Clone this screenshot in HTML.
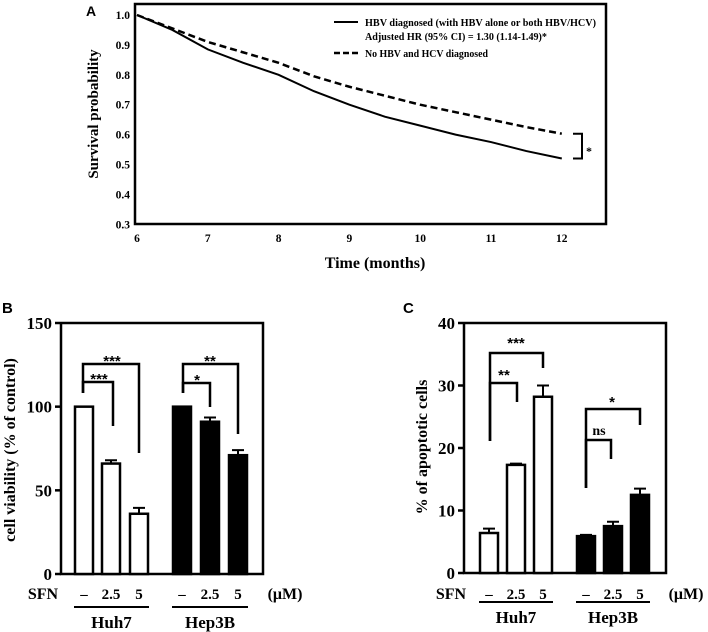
<!DOCTYPE html>
<html><head><meta charset="utf-8"><style>
body{margin:0;background:#fff;}
svg{display:block;font-family:"Liberation Serif",serif;font-weight:bold;}
.sans{font-family:"Liberation Sans",sans-serif;}
</style></head><body>
<svg id="fig" width="708" height="632" viewBox="0 0 708 632" xmlns="http://www.w3.org/2000/svg">
<g id="A"></g>
<g id="B"></g>
<g id="C"></g>
</svg>
<script>
// ---- Panel A data ----
const aMonths = [6,6.5,7,7.5,8,8.5,9,9.5,10,10.5,11,11.5,12];
const aHBV = [1.0,0.95,0.885,0.84,0.80,0.745,0.70,0.66,0.63,0.60,0.575,0.545,0.52];
const aNoHBV = [1.0,0.955,0.91,0.875,0.84,0.795,0.76,0.73,0.70,0.675,0.65,0.625,0.603];
const aXTicks = [6,7,8,9,10,11,12];
const aYTicks = [0.3,0.4,0.5,0.6,0.7,0.8,0.9,1.0];
// ---- Panel B data ----
const bHuh7 = [100,66,36];
const bHuh7Err = [0,2,3.5];
const bHep3B = [100,91,71];
const bHep3BErr = [0,2.5,3];
const bTicks = [0,50,100,150];
// ---- Panel C data ----
const cHuh7 = [6.4,17.3,28.2];
const cHuh7Err = [0.7,0.2,1.8];
const cHep3B = [5.9,7.5,12.5];
const cHep3BErr = [0.2,0.7,1];
const cTicks = [0,10,20,30,40];
const doseLabels = ['–','2.5','5'];

const NS='http://www.w3.org/2000/svg';
function mk(parent,tag,attrs,text){const e=document.createElementNS(NS,tag);for(const k in attrs)e.setAttribute(k,attrs[k]);if(text!==undefined)e.textContent=text;parent.appendChild(e);return e;}

// ===== Panel A =====
(function(){
const g=document.getElementById('A');
const L=135,R=606,T=4,B=224;
const xA=m=>137+(m-6)*70.8;
const yA=v=>15+(1.0-v)*299;
const lbl=mk(g,'text',{x:86,y:16,'font-size':14,class:'sans'},'A');


const box=mk(g,'rect',{x:L,y:T,width:R-L,height:B-T,fill:'none',stroke:'#000','stroke-width':2.5});


aYTicks.forEach(v=>{
 const t=mk(g,'text',{x:130,y:yA(v)+4,'font-size':11.5,'text-anchor':'end'},v.toFixed(1));
 
 
});
aXTicks.forEach(m=>{
 const t=mk(g,'text',{x:xA(m),y:242,'font-size':11.5,'text-anchor':'middle'},String(m));
 
 
});
const yt=mk(g,'text',{x:0,y:0,'font-size':15,'text-anchor':'middle',transform:'translate(98,114) rotate(-90)'},'Survival probability');


const xt=mk(g,'text',{x:375,y:268,'font-size':16,'text-anchor':'middle'},'Time (months)');


const p1=mk(g,'polyline',{points:aMonths.map((m,i)=>xA(m)+','+yA(aHBV[i])).join(' '),fill:'none',stroke:'#000','stroke-width':2});


const p2=mk(g,'polyline',{points:aMonths.map((m,i)=>xA(m)+','+yA(aNoHBV[i])).join(' '),fill:'none',stroke:'#000','stroke-width':2.5,'stroke-dasharray':'7,4'});


const br=mk(g,'polyline',{points:`573,${yA(aNoHBV[12])} 582,${yA(aNoHBV[12])} 582,${yA(aHBV[12])} 573,${yA(aHBV[12])}`,fill:'none',stroke:'#000','stroke-width':2});


const st=mk(g,'text',{x:586,y:155,'font-size':12},'*');


const l1=mk(g,'line',{x1:334,y1:22,x2:358,y2:22,stroke:'#000','stroke-width':2});


const t1=mk(g,'text',{x:365,y:26,'font-size':11,textLength:231,lengthAdjust:'spacingAndGlyphs'},'HBV diagnosed (with HBV alone or both HBV/HCV)');


const t2=mk(g,'text',{x:365,y:40,'font-size':11,textLength:182,lengthAdjust:'spacingAndGlyphs'},'Adjusted HR (95% CI) = 1.30 (1.14-1.49)*');


const l2=mk(g,'line',{x1:334,y1:53,x2:358,y2:53,stroke:'#000','stroke-width':2.5,'stroke-dasharray':'6,3'});


const t3=mk(g,'text',{x:365,y:57,'font-size':11,textLength:123,lengthAdjust:'spacingAndGlyphs'},'No HBV and HCV diagnosed');


})();

// ===== Bar panels =====
function barPanel(cfg){
 const g=document.getElementById(cfg.id);
 const y=v=>cfg.y0-(v/cfg.max)*(cfg.y0-cfg.yTop);
 const lab=mk(g,'text',{x:cfg.lx,y:cfg.ly,'font-size':15,class:'sans'},cfg.label);
 
 
 const ax=mk(g,'polyline',{points:`${cfg.xl},${cfg.yTop} ${cfg.xr},${cfg.yTop} ${cfg.xr},${cfg.y0} ${cfg.xl},${cfg.y0} ${cfg.xl},${cfg.yTop}`,fill:'none',stroke:'#000','stroke-width':2.5});
 
 
 cfg.ticks.forEach(v=>{
  const tk=mk(g,'line',{x1:cfg.xl-6,y1:y(v),x2:cfg.xl,y2:y(v),stroke:'#000','stroke-width':2.5});
  
  
  const tl=mk(g,'text',{x:cfg.xl-9,y:y(v)+6,'font-size':17,'text-anchor':'end'},String(v));
  
  
 });
 const yt=mk(g,'text',{x:0,y:0,'font-size':16,'text-anchor':'middle',transform:`translate(${cfg.ytx},${cfg.yty}) rotate(-90)`},cfg.ytitle);
 
 
 [[cfg.v1,cfg.e1,cfg.x1,'#fff','huh7'],[cfg.v2,cfg.e2,cfg.x2,'#000','hep3b']].forEach(([vals,errs,xs,fill,nm])=>{
  vals.forEach((v,i)=>{
   const cx=xs[i];
   if(errs[i]>0){
    const el=mk(g,'path',{d:`M${cx},${y(v)} V${y(v+errs[i])} M${cx-6},${y(v+errs[i])} H${cx+6}`,stroke:'#000','stroke-width':2,fill:'none'});
    
    
   }
   const r=mk(g,'rect',{x:cx-9,y:y(v),width:18,height:cfg.y0-y(v),fill:fill,stroke:'#000','stroke-width':2.5});
   
   
   const dl=mk(g,'text',{x:cx,y:cfg.sfnY,'font-size':15,'text-anchor':'middle'},doseLabels[i]);
   
   
  });
  const ul=mk(g,'line',{x1:xs[0]-10,y1:cfg.ulY,x2:xs[2]+10,y2:cfg.ulY,stroke:'#000','stroke-width':2});
  
  
  const gl=mk(g,'text',{x:(xs[0]+xs[2])/2,y:cfg.ulY+21,'font-size':17,'text-anchor':'middle'},nm==='huh7'?'Huh7':'Hep3B');
  
  
 });
 const sf=mk(g,'text',{x:cfg.sfnX,y:cfg.sfnY,'font-size':16,'text-anchor':'middle'},'SFN');
 
 
 const um=mk(g,'text',{x:cfg.umX,y:cfg.sfnY,'font-size':16,'text-anchor':'middle'},'(μM)');
 
 
 cfg.brackets.forEach(b=>{
  const p=mk(g,'polyline',{points:`${b.x1},${b.yl} ${b.x1},${b.yh} ${b.x2},${b.yh} ${b.x2},${b.yr}`,fill:'none',stroke:'#000','stroke-width':2.5});
  
  
  const s=mk(g,'text',{x:b.tx,y:b.ty,'font-size':b.fs||15,'text-anchor':'middle',class:b.sans?'':'sans'},b.t);
  
  
 });
}
barPanel({id:'B',label:'B',lx:2,ly:313,xl:61,xr:263,y0:574,yTop:323,max:150,ticks:bTicks,
 ytitle:'cell viability (% of control)',ytx:15,yty:450,
 v1:bHuh7,e1:bHuh7Err,x1:[84,111,139],v2:bHep3B,e2:bHep3BErr,x2:[182,210,238],
 sfnY:599,sfnX:43,umX:285,ulY:607,
 brackets:[{x1:83,yl:393,yh:364,x2:139,yr:453,t:'***',tx:112,ty:366},
           {x1:83,yl:393,yh:382,x2:113,yr:426,t:'***',tx:99,ty:384},
           {x1:183,yl:393,yh:364,x2:238,yr:434,t:'**',tx:210,ty:366},
           {x1:183,yl:393,yh:383,x2:210,yr:407,t:'*',tx:197,ty:385}]});
barPanel({id:'C',label:'C',lx:403,ly:313,xl:464,xr:666,y0:573,yTop:323,max:40,ticks:cTicks,
 ytitle:'% of apoptotic cells',ytx:427,yty:447,
 v1:cHuh7,e1:cHuh7Err,x1:[489,516,543],v2:cHep3B,e2:cHep3BErr,x2:[586,613,640],
 sfnY:599,sfnX:451,umX:686,ulY:602,
 brackets:[{x1:490,yl:441,yh:353,x2:543,yr:368,t:'***',tx:516,ty:348},
           {x1:490,yl:441,yh:383,x2:517,yr:402,t:'**',tx:504,ty:380},
           {x1:586,yl:488,yh:409,x2:640,yr:425,t:'*',tx:612,ty:407},
           {x1:586,yl:488,yh:440,x2:611,yr:459,t:'ns',tx:599,ty:435,sans:true,fs:14}]});
</script>
</body></html>
